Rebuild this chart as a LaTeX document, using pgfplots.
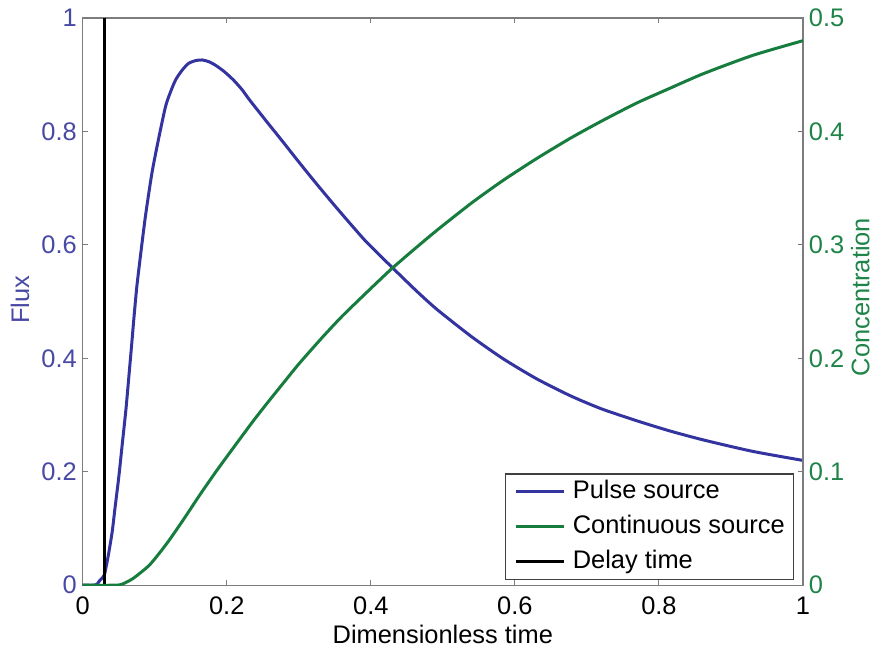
\documentclass[border=0pt]{standalone}
\usepackage{pgfplots}
\pgfplotsset{compat=1.18}
\usepackage{fontspec}
\setmainfont{Liberation Sans}
\definecolor{fluxblue}{RGB}{52,52,160}
\definecolor{fluxtext}{RGB}{72,72,165}
\definecolor{concgreen}{RGB}{22,125,62}
\definecolor{conctext}{RGB}{30,132,72}
\definecolor{framegray}{RGB}{125,125,125}
\begin{document}
\begin{tikzpicture}
\pgfplotsset{
  every axis/.append style={
    width=360bp, height=283.5bp, scale only axis,
    xmin=0, xmax=1,
    /pgf/number format/assume math mode=true,
    tick align=inside,
    major tick length=2.5bp,
    tick style={framegray, line width=0.5bp},
    every tick label/.append style={font=\fontsize{12.7bp}{15bp}\selectfont, inner sep=0pt},
    xticklabel shift=5.8bp,
    yticklabel shift=2.8bp,
    label style={font=\fontsize{12.7bp}{15bp}\selectfont, inner sep=0pt},
  }
}
\begin{axis}[
  ymin=0, ymax=1,
  xtick={0,0.2,0.4,0.6,0.8,1},
  ytick={0,0.2,0.4,0.6,0.8,1},
  xtick pos=both, ytick pos=left,
  axis line style={framegray, line width=0.6bp},
  yticklabel style={text=fluxtext},
  xlabel={Dimensionless time},
  xlabel style={at={(axis description cs:0.5,0)}, anchor=base, yshift=-29bp},
  ylabel={Flux},
  ylabel style={at={(axis description cs:-0.0871,0.503)}, anchor=center, text=fluxtext},
]
\coordinate (ll) at (rel axis cs:0,0);
\coordinate (ur) at (rel axis cs:1,1);
\addplot[fluxblue, line width=1.5bp, smooth, tension=0.4] coordinates {
(0,0) (0.015,0) (0.020,0.002) (0.024,0.009) (0.030,0.018) (0.036,0.056) (0.041,0.095)
(0.045,0.138) (0.050,0.19) (0.055,0.250) (0.060,0.31) (0.064,0.367) (0.068,0.425)
(0.071,0.47) (0.075,0.525) (0.080,0.579) (0.087,0.650) (0.096,0.726) (0.105,0.785)
(0.115,0.844) (0.122,0.870) (0.129,0.891) (0.138,0.908) (0.147,0.920) (0.157,0.925)
(0.166,0.926) (0.175,0.923) (0.184,0.917) (0.196,0.906) (0.209,0.891) (0.221,0.874)
(0.232,0.855) (0.255,0.818) (0.279,0.780) (0.302,0.743) (0.325,0.707) (0.348,0.672)
(0.371,0.638) (0.394,0.605) (0.429,0.561) (0.464,0.518) (0.492,0.486) (0.54,0.438)
(0.584,0.399) (0.63,0.364) (0.677,0.334) (0.72,0.311) (0.769,0.290) (0.815,0.272)
(0.862,0.256) (0.93,0.236) (1.0,0.220)
};
\addplot[black, line width=1.7bp] coordinates {(0.0305,0) (0.0305,1)};
\end{axis}
\begin{axis}[
  ymin=0, ymax=0.5,
  axis x line=none,
  axis y line*=right,
  ytick={0,0.1,0.2,0.3,0.4,0.5},
  axis line style={framegray, line width=0.6bp},
  yticklabel style={text=conctext},
  ylabel={Concentration},
  ylabel style={at={(axis description cs:1.0796,0.508)}, anchor=center, text=conctext},
  legend style={at={(0.988,0.0088)}, anchor=south east, draw=black!75, fill=white,
    line width=0.6bp, inner xsep=4.5bp, inner ysep=0.3bp,
    font=\fontsize{12.7bp}{15bp}\selectfont,
    nodes={inner ysep=2.6bp, inner xsep=0pt, text height=9.3bp, text depth=2.9bp},
    /tikz/every odd column/.append style={column sep=3.5bp}},
  legend image code/.code={\draw[#1] (0bp,0bp) -- (24bp,0bp);},
  legend cell align=left,
]
\addlegendimage{fluxblue, line width=1.5bp}
\addlegendentry{Pulse source}
\addplot[concgreen, line width=1.5bp, smooth, tension=0.4] coordinates {
(0,0) (0.045,0) (0.055,0.001) (0.070,0.006) (0.093,0.018) (0.117,0.037) (0.140,0.058)
(0.163,0.080) (0.186,0.101) (0.209,0.121) (0.237,0.145) (0.258,0.162) (0.277,0.177)
(0.300,0.195) (0.332,0.218) (0.360,0.237) (0.399,0.261) (0.429,0.279) (0.46,0.296)
(0.492,0.313) (0.54,0.337) (0.584,0.357) (0.63,0.376) (0.677,0.394) (0.72,0.409)
(0.769,0.425) (0.815,0.438) (0.862,0.451) (0.93,0.467) (1.0,0.480)
};
\addlegendentry{Continuous source}
\addlegendimage{black, line width=1.5bp}
\addlegendentry{Delay time}
\end{axis}
\pgfresetboundingbox
\path ([shift={(-41.35bp,-32bp)}]ll) rectangle ([shift={(37bp,9bp)}]ur);
\end{tikzpicture}
\end{document}
